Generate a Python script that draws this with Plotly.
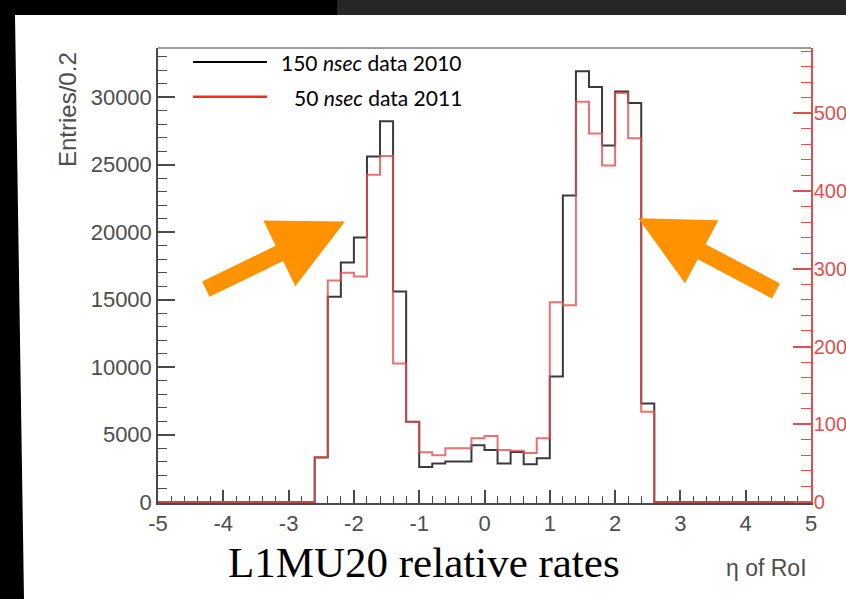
import plotly.graph_objects as go

# ---------------- data ----------------
eta_bin_low = [-5.0, -4.8, -4.6, -4.4, -4.2, -4.0, -3.8, -3.6, -3.4, -3.2,
               -3.0, -2.8, -2.6, -2.4, -2.2, -2.0, -1.8, -1.6, -1.4, -1.2,
               -1.0, -0.8, -0.6, -0.4, -0.2, 0.0, 0.2, 0.4, 0.6, 0.8,
               1.0, 1.2, 1.4, 1.6, 1.8, 2.0, 2.2, 2.4, 2.6, 2.8,
               3.0, 3.2, 3.4, 3.6, 3.8, 4.0, 4.2, 4.4, 4.6, 4.8]
eta_max = 5.0

# 150 nsec data 2010 (left axis, Entries/0.2)
entries_2010 = [0, 0, 0, 0, 0, 0, 0, 0, 0, 0,
                0, 0, 3300, 15200, 17750, 19600, 25600, 28200, 15600, 5950,
                2600, 2850, 3000, 3000, 4200, 3850, 2850, 3700, 2800, 3250,
                9300, 22700, 31900, 30750, 26400, 30400, 29550, 7300, 0, 0,
                0, 0, 0, 0, 0, 0, 0, 0, 0, 0]

# 50 nsec data 2011 (right axis)
entries_2011 = [0, 0, 0, 0, 0, 0, 0, 0, 0, 0,
                0, 0, 58, 285, 295, 290, 421, 445, 178, 103,
                64, 60, 69, 69, 82, 85, 67, 66, 63, 82,
                257, 253, 515, 474, 433, 526, 468, 116, 0, 0,
                0, 0, 0, 0, 0, 0, 0, 0, 0, 0]

x_tick_vals = [-5, -4, -3, -2, -1, 0, 1, 2, 3, 4, 5]
x_tick_text = ["-5", "-4", "-3", "-2", "-1", "0", "1", "2", "3", "4", "5"]

legend_labels = ["150 <i>nsec</i> data 2010", "50 <i>nsec</i> data 2011"]
y_title = "Entries/0.2"
x_title = "\u03b7 of RoI"
caption = "L1MU20 relative rates"

# ---------------- layout helpers (pixel -> paper) ----------------
W, H = 846, 599


def px(x):
    return x / W


def py(y):
    return 1 - y / H


def path(points):
    s = "M " + " L ".join(f"{px(x):.5f},{py(y):.5f}" for x, y in points) + " Z"
    return s


def arrow(tip, tail, head_len, head_half, shaft_half):
    import math
    dx, dy = tip[0] - tail[0], tip[1] - tail[1]
    L = math.hypot(dx, dy)
    ux, uy = dx / L, dy / L
    nx, ny = -uy, ux
    bx, by = tip[0] - ux * head_len, tip[1] - uy * head_len
    pts = [
        (tail[0] + nx * shaft_half, tail[1] + ny * shaft_half),
        (bx + nx * shaft_half, by + ny * shaft_half),
        (bx + nx * head_half, by + ny * head_half),
        tip,
        (bx - nx * head_half, by - ny * head_half),
        (bx - nx * shaft_half, by - ny * shaft_half),
        (tail[0] - nx * shaft_half, tail[1] - ny * shaft_half),
    ]
    return path(pts)


X0, X1, YB, YT = 158, 811, 503, 48
BLACK = "#3a3a3a"
RED_HIST = "rgba(228,78,78,0.8)"
RED_AX = "rgb(222,80,80)"
AXC = "#4a4a4a"
LBL = "#4d4d4d"

fig = go.Figure()

x_steps = eta_bin_low + [eta_max]
fig.add_trace(go.Scatter(
    x=x_steps, y=entries_2010 + [entries_2010[-1]], mode="lines",
    line=dict(shape="hv", color=BLACK, width=2),
    showlegend=False, hoverinfo="skip"))
fig.add_trace(go.Scatter(
    x=x_steps, y=entries_2011 + [entries_2011[-1]], mode="lines", yaxis="y2",
    line=dict(shape="hv", color=RED_HIST, width=2),
    showlegend=False, hoverinfo="skip"))

tickfont = dict(family="Liberation Sans", size=22, color=LBL)

fig.update_layout(
    width=W, height=H, autosize=False,
    margin=dict(l=0, r=0, t=0, b=0),
    paper_bgcolor="black", plot_bgcolor="rgba(0,0,0,0)",
    showlegend=False,
    xaxis=dict(
        domain=[px(X0), px(X1)], range=[-5, 5],
        tickmode="array", tickvals=x_tick_vals, ticktext=x_tick_text,
        ticks="inside", ticklen=13, tickwidth=1.5, tickcolor=AXC,
        showline=True, linecolor=AXC, linewidth=1.5,
        showgrid=False, zeroline=False, layer="below traces",
        minor=dict(dtick=0.2, tick0=0, ticks="inside", ticklen=7,
                   tickwidth=1.2, tickcolor=AXC, showgrid=False),
        tickfont=tickfont, automargin=False, anchor="y"),
    yaxis=dict(
        domain=[py(YB), py(YT)], range=[-74, 33630], dtick=5000, tick0=0,
        tickformat="d", ticks="inside", ticklen=17, tickwidth=1.5,
        tickcolor=AXC, showline=True, linecolor=AXC, linewidth=1.5,
        showgrid=False, zeroline=False,
        minor=dict(dtick=1000, ticks="inside", ticklen=9, tickwidth=1.2,
                   tickcolor=AXC, showgrid=False),
        tickfont=tickfont, automargin=False, anchor="x"),
    yaxis2=dict(
        overlaying="y", side="right", anchor="x", range=[-1.3, 584],
        dtick=100, tick0=0, ticks="inside", ticklen=18, tickwidth=1.5,
        tickcolor=RED_AX, showline=True, linecolor=RED_AX, linewidth=1.5,
        showgrid=False, zeroline=False, ticklabelstandoff=-3,
        minor=dict(dtick=20, ticks="inside", ticklen=10, tickwidth=1.2,
                   tickcolor=RED_AX, showgrid=False),
        tickfont=dict(family="Liberation Sans", size=20, color=RED_AX),
        automargin=False),
)

shapes = [
    # white slide panel
    dict(type="path", xref="paper", yref="paper", layer="below",
         path=path([(15, 15), (846, 15), (846, 599), (24, 599)]),
         fillcolor="white", line=dict(width=0)),
    # dark strip top right
    dict(type="rect", xref="paper", yref="paper", layer="below",
         x0=px(337), x1=1, y0=py(15), y1=1,
         fillcolor="#262626", line=dict(width=0)),
    # top frame
    dict(type="line", xref="paper", yref="paper",
         x0=px(X0), x1=px(X1), y0=py(YT), y1=py(YT),
         line=dict(color="#9a9a9a", width=2)),
    # legend lines
    dict(type="line", xref="paper", yref="paper",
         x0=px(193), x1=px(267), y0=py(62), y1=py(62),
         line=dict(color="black", width=2)),
    dict(type="line", xref="paper", yref="paper",
         x0=px(193), x1=px(267), y0=py(96.7), y1=py(96.7),
         line=dict(color="#ff2a10", width=2.5)),
    # orange arrows
    dict(type="path", xref="paper", yref="paper",
         path=arrow((345, 221.5), (205.8, 289.2), 73, 36.5, 8.5),
         fillcolor="#ff9200", line=dict(width=0)),
    dict(type="path", xref="paper", yref="paper",
         path=arrow((638.3, 218.3), (776, 291), 71.7, 35.7, 8.5),
         fillcolor="#ff9200", line=dict(width=0)),
]
fig.update_layout(shapes=shapes)

legfont = dict(family="Lato", size=21, color="black")
annotations = [
    dict(text=legend_labels[0], x=px(279), y=py(62), xref="paper", yref="paper",
         xanchor="left", yanchor="middle", showarrow=False, font=legfont),
    dict(text=legend_labels[1], x=px(292), y=py(97), xref="paper", yref="paper",
         xanchor="left", yanchor="middle", showarrow=False, font=legfont),
    dict(text=y_title, x=px(68), y=py(110), xref="paper", yref="paper",
         xanchor="center", yanchor="middle", textangle=-90, showarrow=False,
         font=dict(family="Liberation Sans", size=24, color=LBL)),
    dict(text=x_title, x=px(766), y=py(568), xref="paper", yref="paper",
         xanchor="center", yanchor="middle", showarrow=False,
         font=dict(family="Liberation Sans", size=23, color=LBL)),
    dict(text=caption, x=px(424), y=py(562), xref="paper", yref="paper",
         xanchor="center", yanchor="middle", showarrow=False,
         font=dict(family="Liberation Serif", size=43, color="black")),
]
fig.update_layout(annotations=annotations)

fig.write_html(
    "out.html",
    config={"displayModeBar": False},
    post_script="document.body.style.margin='0';"
                "document.body.style.overflow='hidden';"
                "document.documentElement.style.overflow='hidden';",
)
